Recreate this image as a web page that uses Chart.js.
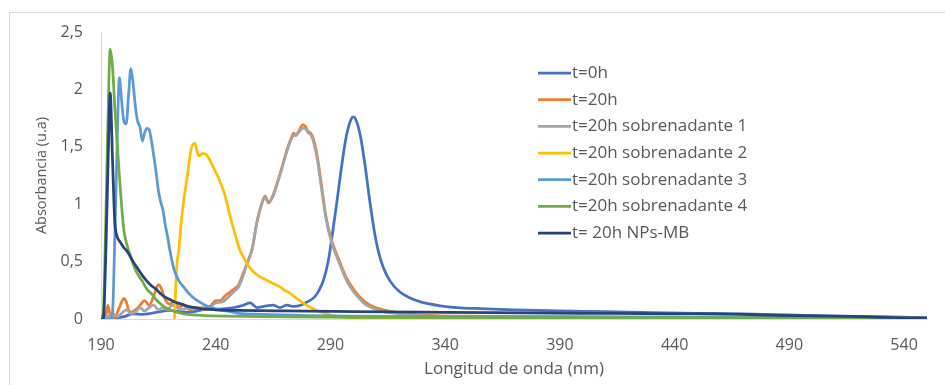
<!DOCTYPE html>
<html>
<head>
<meta charset="utf-8">
<script src="https://cdn.jsdelivr.net/npm/chart.js@4.4.1/dist/chart.umd.min.js"></script>
<style>
  html, body { margin: 0; padding: 0; background: #ffffff; overflow: hidden; }
  #wrap { position: relative; width: 945px; height: 385px; }
</style>
</head>
<body>
<div id="wrap"><canvas id="c" width="945" height="385"></canvas></div>
<script>
// ---------- DATA ----------
const seriesNames = [
  't=0h',
  't=20h',
  't=20h sobrenadante 1',
  't=20h sobrenadante 2',
  't=20h sobrenadante 3',
  't=20h sobrenadante 4',
  't= 20h NPs-MB'
];

// t=0h
const wl_t0 = [190,191,194,197,200,204,208,212,216,220,224,228,232,236,240,244,248,252,255,258,261,265,268,271,274,277,280,283,285,287,289,291,293,295,297,299,300,301,303,305,307,309,311,313,316,320,324,330,338,345,355,370,390,410,430,450,470,490,510,530,550];
const abs_t0 = [0.03,0.0,0.0,0.01,0.02,0.045,0.04,0.05,0.065,0.075,0.065,0.06,0.07,0.085,0.085,0.09,0.1,0.12,0.14,0.1,0.11,0.12,0.1,0.12,0.11,0.12,0.15,0.19,0.25,0.34,0.5,0.76,1.05,1.35,1.6,1.74,1.76,1.74,1.6,1.35,1.05,0.78,0.58,0.45,0.33,0.24,0.19,0.145,0.115,0.1,0.09,0.08,0.07,0.065,0.055,0.05,0.045,0.035,0.025,0.02,0.012];

// t=20h
const wl_t20 = [190,192,193,194,195,196,197,198,199,200,201,202,203,205,207,209,211,213,215,216,218,220,222,224,226,229,232,235,238,240,242,244,246,248,250,252,254,256,258,260,261.5,263,265,267,269,271,273,274,275,276,278,279,280,282,284,286,288,290,292,294,296,298,300,302,305,309,313,318,325,335,350,380,450,550];
const abs_t20 = [0.0,0.02,0.12,0.03,0.0,0.02,0.05,0.1,0.15,0.18,0.15,0.08,0.06,0.08,0.12,0.16,0.12,0.2,0.3,0.28,0.17,0.13,0.15,0.1,0.12,0.08,0.1,0.08,0.12,0.16,0.16,0.2,0.23,0.26,0.3,0.4,0.5,0.62,0.85,1.0,1.07,1.01,1.08,1.2,1.33,1.47,1.58,1.62,1.6,1.63,1.69,1.68,1.64,1.6,1.45,1.18,0.9,0.72,0.6,0.5,0.4,0.32,0.26,0.21,0.15,0.105,0.08,0.06,0.04,0.03,0.025,0.02,0.015,0.01];

// t=20h sobrenadante 1
const wl_s1 = [190,193,195,197,199,201,203,205,207,209,211,213,215,217,219,221,223,225,228,231,234,237,240,243,246,248,250,252,254,256,258,260,261.5,263,265,267,269,271,273,274,275,276,278,279,280,282,284,286,288,290,292,294,296,298,300,302,305,309,313,318,325,335,350,400,550];
const abs_s1 = [0.0,0.02,0.05,0.02,0.05,0.08,0.05,0.06,0.1,0.07,0.1,0.12,0.08,0.1,0.08,0.12,0.1,0.08,0.1,0.09,0.1,0.1,0.14,0.15,0.2,0.24,0.28,0.38,0.5,0.62,0.85,1.0,1.06,1.02,1.07,1.19,1.32,1.46,1.57,1.6,1.6,1.62,1.66,1.66,1.63,1.58,1.42,1.15,0.88,0.7,0.58,0.48,0.38,0.3,0.24,0.19,0.13,0.09,0.065,0.05,0.035,0.025,0.02,0.015,0.01];

// t=20h sobrenadante 2
const wl_s2 = [222,223,224,225,226,227,228,229,230,231,232,233,234,235,236,237,238,239,240,241,242,243,244,245,246,247,248,249,250,252,254,256,258,260,262,264,266,268,270,272,274,276,278,280,282,284,286,290,294,300,320,400,550];
const abs_s2 = [0.0,0.45,0.62,0.85,1.02,1.16,1.3,1.45,1.52,1.53,1.45,1.42,1.44,1.44,1.43,1.4,1.36,1.32,1.28,1.24,1.19,1.14,1.08,1.0,0.92,0.84,0.77,0.7,0.63,0.54,0.47,0.42,0.385,0.36,0.34,0.32,0.3,0.28,0.25,0.23,0.2,0.17,0.14,0.115,0.095,0.075,0.06,0.035,0.02,0.012,0.008,0.006,0.005];

// t=20h sobrenadante 3
const wl_s3 = [190,194,195,196,197,198,199,200,201,202,203,204,205,206,207,208,209,210,211,212,213,214,215,216,217,218,219,220,221,222,224,226,228,230,232,235,238,242,246,250,260,280,300,350,450,550];
const abs_s3 = [0.0,0.0,0.05,0.7,1.5,2.1,1.9,1.72,1.7,1.95,2.18,2.05,1.85,1.72,1.67,1.55,1.62,1.66,1.65,1.55,1.42,1.28,1.12,1.02,0.95,0.82,0.72,0.6,0.5,0.42,0.33,0.28,0.23,0.19,0.16,0.125,0.1,0.08,0.065,0.05,0.04,0.03,0.025,0.02,0.015,0.01];

// t=20h sobrenadante 4
const wl_s4 = [190,191,192,193,194,195,196,197,198,199,200,201,202,203,204,205,206,208,210,212,214,216,218,220,223,226,230,235,245,260,300,400,550];
const abs_s4 = [0.0,0.05,0.8,1.7,2.35,2.2,1.85,1.55,1.25,0.98,0.77,0.67,0.6,0.54,0.48,0.43,0.39,0.33,0.26,0.22,0.17,0.13,0.1,0.08,0.06,0.045,0.035,0.03,0.025,0.02,0.015,0.012,0.008];

// t= 20h NPs-MB
const wl_np = [190,191,192,193,194,195,196,197,198,199,200,201,202,204,206,208,210,212,214,216,218,220,222,225,228,232,236,240,250,270,300,330,360,400,440,470,490,510,530,550];
const abs_np = [0.0,0.0,0.5,1.3,1.97,1.4,0.85,0.72,0.68,0.65,0.62,0.6,0.57,0.5,0.44,0.38,0.33,0.29,0.26,0.22,0.19,0.17,0.15,0.13,0.11,0.095,0.085,0.08,0.075,0.07,0.065,0.06,0.055,0.05,0.045,0.04,0.03,0.025,0.015,0.008];

const xTickValues = [190,240,290,340,390,440,490,540];
const yTickValues = [0,0.5,1,1.5,2,2.5];
const yTickLabels = ['0','0,5','1','1,5','2','2,5'];

// ---------- STYLE ----------
const colors = ['#4472C4','#ED7D31','#A5A5A5','#FFC000','#5B9BD5','#70AD47','#264478'];
const wlArrays = [wl_t0, wl_t20, wl_s1, wl_s2, wl_s3, wl_s4, wl_np];
const absArrays = [abs_t0, abs_t20, abs_s1, abs_s2, abs_s3, abs_s4, abs_np];
const textColor = '#595959';
const axisColor = '#d9d9d9';
const fontFamily = "'Open Sans', 'Noto Sans', sans-serif";

const datasets = seriesNames.map((name, i) => ({
  label: name,
  data: wlArrays[i].map((w, k) => ({ x: w, y: absArrays[i][k] })),
  borderColor: colors[i],
  backgroundColor: colors[i],
  borderWidth: 2.75,
  pointRadius: 0,
  fill: false,
  cubicInterpolationMode: 'monotone',
  order: seriesNames.length - 1 - i
}));

const framePlugin = {
  id: 'frame',
  beforeDraw(chart) {
    const ctx = chart.ctx;
    ctx.save();
    ctx.strokeStyle = axisColor;
    ctx.lineWidth = 1;
    ctx.strokeRect(9.5, 12.5, 2000, 2000);
    ctx.restore();
  }
};

const legendPlugin = {
  id: 'customLegend',
  afterDraw(chart) {
    const ctx = chart.ctx;
    ctx.save();
    ctx.font = "17px " + fontFamily;
    ctx.textBaseline = 'middle';
    ctx.textAlign = 'left';
    seriesNames.forEach((name, i) => {
      const y = 73 + i * 26.67;
      ctx.strokeStyle = colors[i];
      ctx.lineWidth = 2.75;
      ctx.beginPath();
      ctx.moveTo(538, y);
      ctx.lineTo(571, y);
      ctx.stroke();
      ctx.fillStyle = textColor;
      ctx.fillText(name, 572, y);
    });
    ctx.restore();
  }
};

new Chart(document.getElementById('c'), {
  type: 'line',
  data: { datasets },
  options: {
    responsive: false,
    animation: false,
    devicePixelRatio: 1,
    layout: { padding: { top: 32, right: 18, left: 0, bottom: 0 } },
    plugins: { legend: { display: false }, tooltip: { enabled: false } },
    scales: {
      x: {
        type: 'linear',
        min: 190,
        max: 550,
        afterBuildTicks: (s) => { s.ticks = xTickValues.map(v => ({ value: v })); },
        afterFit: (s) => { s.height = 66; },
        grid: { display: false, drawTicks: false },
        border: { display: true, color: axisColor, width: 1 },
        ticks: {
          color: textColor,
          font: { family: fontFamily, size: 16 },
          padding: 17,
          maxRotation: 0,
          autoSkip: false,
          callback: (v) => String(v)
        },
        title: {
          display: true,
          text: 'Longitud de onda (nm)',
          color: textColor,
          font: { family: fontFamily, size: 17 },
          padding: { top: 0, bottom: 6 }
        }
      },
      y: {
        type: 'linear',
        min: 0,
        max: 2.5,
        afterBuildTicks: (s) => { s.ticks = yTickValues.map(v => ({ value: v })); },
        afterFit: (s) => { s.width = 101; },
        grid: { display: false, drawTicks: false },
        border: { display: true, color: axisColor, width: 1 },
        ticks: {
          color: textColor,
          font: { family: fontFamily, size: 16 },
          padding: 18,
          callback: (v) => { const i = yTickValues.indexOf(v); return i >= 0 ? yTickLabels[i] : ''; }
        },
        title: {
          display: true,
          text: 'Absorbancia (u.a)',
          color: textColor,
          font: { family: fontFamily, size: 14.5 },
          padding: { top: 33, bottom: 0 }
        }
      }
    }
  },
  plugins: [framePlugin, legendPlugin]
});
</script>
</body>
</html>
